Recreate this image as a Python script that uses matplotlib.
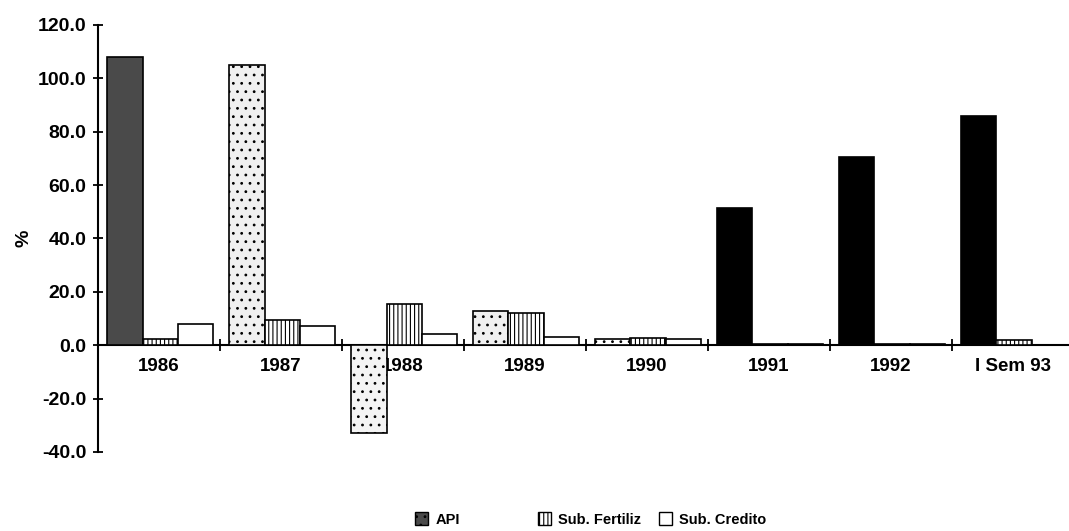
import matplotlib
matplotlib.use("Agg")
import matplotlib.pyplot as plt
from matplotlib.patches import Patch
import numpy as np

categories = ['1986', '1987', '1988', '1989', '1990', '1991', '1992', 'I Sem 93']
api = [108.0, 105.0, -33.0, 13.0, 2.2, 51.5, 70.5, 86.0]
sub_fertiliz = [2.2, 9.4, 15.4, 12.0, 2.6, 0.5, 0.5, 1.8]
sub_credito = [7.9, 7.1, 4.1, 3.0, 2.4, 0.3, 0.3, 0.2]
series_names = ['API', 'Sub. Fertiliz', 'Sub. Credito']
yticks = [-40, -20, 0, 20, 40, 60, 80, 100, 120]

api_colors = ['#4a4a4a', '#f0f0f0', '#f4f4f4', '#f0f0f0', '#ffffff', '#000000', '#000000', '#000000']

plt.rcParams['font.family'] = ['Liberation Sans', 'DejaVu Sans']
plt.rcParams['font.weight'] = 'bold'
plt.rcParams['hatch.linewidth'] = 0.8

fig = plt.figure(figsize=(10.69, 5.31), dpi=100)
ax = fig.add_axes([0.0917, 0.1488, 0.9083, 0.8042])

x = np.arange(len(categories))
w = 0.29
for i in range(len(categories)):
    ax.bar(x[i] - w + 0.01, api[i], w, color=api_colors[i], edgecolor='black',
           linewidth=1.2, hatch='..' if 0 < i < 5 else None, zorder=3)
ax.bar(x + 0.01, sub_fertiliz, w, color='white', edgecolor='black', linewidth=1.2,
       hatch='||||', zorder=3)
ax.bar(x + w + 0.01, sub_credito, w, color='white', edgecolor='black', linewidth=1.2,
       zorder=3)

ax.set_xlim(-0.5, 7.46)
ax.set_ylim(-40, 120)
ax.set_yticks(yticks)
ax.set_yticklabels([f'{v:.1f}' for v in yticks])
ax.set_xticks(x)
ax.set_xticklabels(categories)
ax.set_xticks(np.arange(0.5, 7.0, 1.0), minor=True)

for s in ['top', 'right']:
    ax.spines[s].set_visible(False)
ax.spines['bottom'].set_position(('data', 0))
ax.spines['bottom'].set_linewidth(1.5)
ax.spines['left'].set_linewidth(1.5)

ax.tick_params(axis='y', direction='inout', length=7, width=1.3, pad=5,
               labelsize=14)
ax.tick_params(axis='x', which='major', length=0, pad=9, labelsize=13.5)
ax.tick_params(axis='x', which='minor', direction='inout', length=8, width=1.3)
for lab in ax.get_xticklabels() + ax.get_yticklabels():
    lab.set_fontweight('bold')

ax.set_ylabel('%', fontsize=14, fontweight='bold', labelpad=4)

h_api = Patch(facecolor='#4a4a4a', edgecolor='black', hatch='..', label=series_names[0])
h_fert = Patch(facecolor='white', edgecolor='black', hatch='||||', label=series_names[1])
h_cred = Patch(facecolor='white', edgecolor='black', label=series_names[2])

leg_kw = dict(frameon=False, loc='center left', borderpad=0, borderaxespad=0,
              handlelength=0.9, handleheight=1.0, handletextpad=0.5,
              prop={'family': 'Liberation Sans', 'weight': 'bold', 'size': 10.5})
fig.legend(handles=[h_api], bbox_to_anchor=(0.388, 0.022), **leg_kw)
fig.legend(handles=[h_fert, h_cred], bbox_to_anchor=(0.503, 0.022), ncol=2,
           columnspacing=1.2, **leg_kw)

fig.savefig('out.png', dpi=100)
